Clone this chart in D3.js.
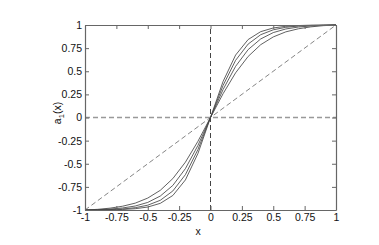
<!DOCTYPE html>
<html>
<head>
<meta charset="utf-8">
<script src="https://cdn.jsdelivr.net/npm/d3@7"></script>
<style>
  body { margin: 0; background: #fff; }
  text { font-family: "Liberation Sans", Arial, sans-serif; font-size: 10.5px; fill: #111; }
</style>
</head>
<body>
<div id="chart"></div>
<script>
// x samples (positive half), curves are odd so negative half mirrors them
let xs = [0, 0.1, 0.2, 0.3, 0.4, 0.5, 0.6, 0.7, 0.8, 0.9, 1];
let curve1 = [0, 0.257, 0.483, 0.660, 0.787, 0.871, 0.926, 0.959, 0.980, 0.993, 1];
let curve2 = [0, 0.302, 0.553, 0.734, 0.849, 0.918, 0.957, 0.978, 0.990, 0.997, 1];
let curve3 = [0, 0.346, 0.618, 0.794, 0.895, 0.948, 0.975, 0.989, 0.995, 0.998, 1];
let curve4 = [0, 0.389, 0.675, 0.843, 0.928, 0.968, 0.986, 0.994, 0.998, 0.999, 1];
let tickVals = [-1, -0.75, -0.5, -0.25, 0, 0.25, 0.5, 0.75, 1];
let tickLabels = ["-1", "-0.75", "-0.5", "-0.25", "0", "0.25", "0.5", "0.75", "1"];

let width = 379, height = 245;
let margin = {top: 25, right: 43, bottom: 35, left: 85};

let svg = d3.select("#chart").append("svg").attr("width", width).attr("height", height);

let xScale = d3.scaleLinear().domain([-1, 1]).range([margin.left, width - margin.right]);
let yScale = d3.scaleLinear().domain([-1, 1]).range([height - margin.bottom, margin.top]);

// full curves over [-1, 1]
function fullCurve(vals) {
    let pts = [];
    for (let i = xs.length - 1; i > 0; i--) pts.push([-xs[i], -vals[i]]);
    for (let i = 0; i < xs.length; i++) pts.push([xs[i], vals[i]]);
    return pts;
}

let line = d3.line().x(d => xScale(d[0])).y(d => yScale(d[1]));

// reference lines
svg.append("line")
    .attr("x1", xScale(-1)).attr("x2", xScale(1))
    .attr("y1", yScale(0)).attr("y2", yScale(0))
    .attr("stroke", "#999").attr("stroke-width", 1.6).attr("stroke-dasharray", "5,3");
svg.append("line")
    .attr("x1", xScale(0)).attr("x2", xScale(0))
    .attr("y1", yScale(-1)).attr("y2", yScale(1))
    .attr("stroke", "#444").attr("stroke-width", 1).attr("stroke-dasharray", "5,3");
svg.append("line")
    .attr("x1", xScale(-1)).attr("x2", xScale(1))
    .attr("y1", yScale(-1)).attr("y2", yScale(1))
    .attr("stroke", "#666").attr("stroke-width", 0.8).attr("stroke-dasharray", "5,3");

// curves
[curve1, curve2, curve3, curve4].forEach(function (c) {
    svg.append("path")
        .attr("d", line(fullCurve(c)))
        .attr("fill", "none")
        .attr("stroke", "#444")
        .attr("stroke-width", 0.85);
});

// axes box with inward ticks
let tickLen = 4;
let bottomAxis = d3.axisBottom(xScale).tickValues(tickVals).tickFormat((d, i) => tickLabels[i]).tickSizeInner(-tickLen).tickSizeOuter(0).tickPadding(4);
let leftAxis = d3.axisLeft(yScale).tickValues(tickVals).tickFormat((d, i) => tickLabels[i]).tickSizeInner(-tickLen).tickSizeOuter(0).tickPadding(3);
let topAxis = d3.axisTop(xScale).tickValues(tickVals).tickFormat("").tickSizeInner(-tickLen).tickSizeOuter(0);
let rightAxis = d3.axisRight(yScale).tickValues(tickVals).tickFormat("").tickSizeInner(-tickLen).tickSizeOuter(0);

function styleAxis(g) {
    g.select(".domain").attr("stroke", "#666").attr("stroke-width", 1.2);
    g.selectAll(".tick line").attr("stroke", "#666");
    g.selectAll(".tick text").attr("fill", "#111").style("font-family", "Liberation Sans, Arial, sans-serif").style("font-size", "10.5px");
}

svg.append("g").attr("transform", `translate(0, ${yScale(-1)})`).call(bottomAxis).call(styleAxis);
svg.append("g").attr("transform", `translate(${xScale(-1)}, 0)`).call(leftAxis).call(styleAxis);
svg.append("g").attr("transform", `translate(0, ${yScale(1)})`).call(topAxis).call(styleAxis);
svg.append("g").attr("transform", `translate(${xScale(1)}, 0)`).call(rightAxis).call(styleAxis);

// axis labels
svg.append("text")
    .attr("x", 198)
    .attr("y", 235)
    .attr("text-anchor", "middle")
    .text("x");

let yl = svg.append("text")
    .attr("transform", `translate(61, 113) rotate(-90)`)
    .attr("text-anchor", "middle");
yl.append("tspan").text("a");
yl.append("tspan").attr("dy", 3).style("font-size", "7.5px").text("1");
yl.append("tspan").attr("dy", -3).text("(x)");
</script>
</body>
</html>
